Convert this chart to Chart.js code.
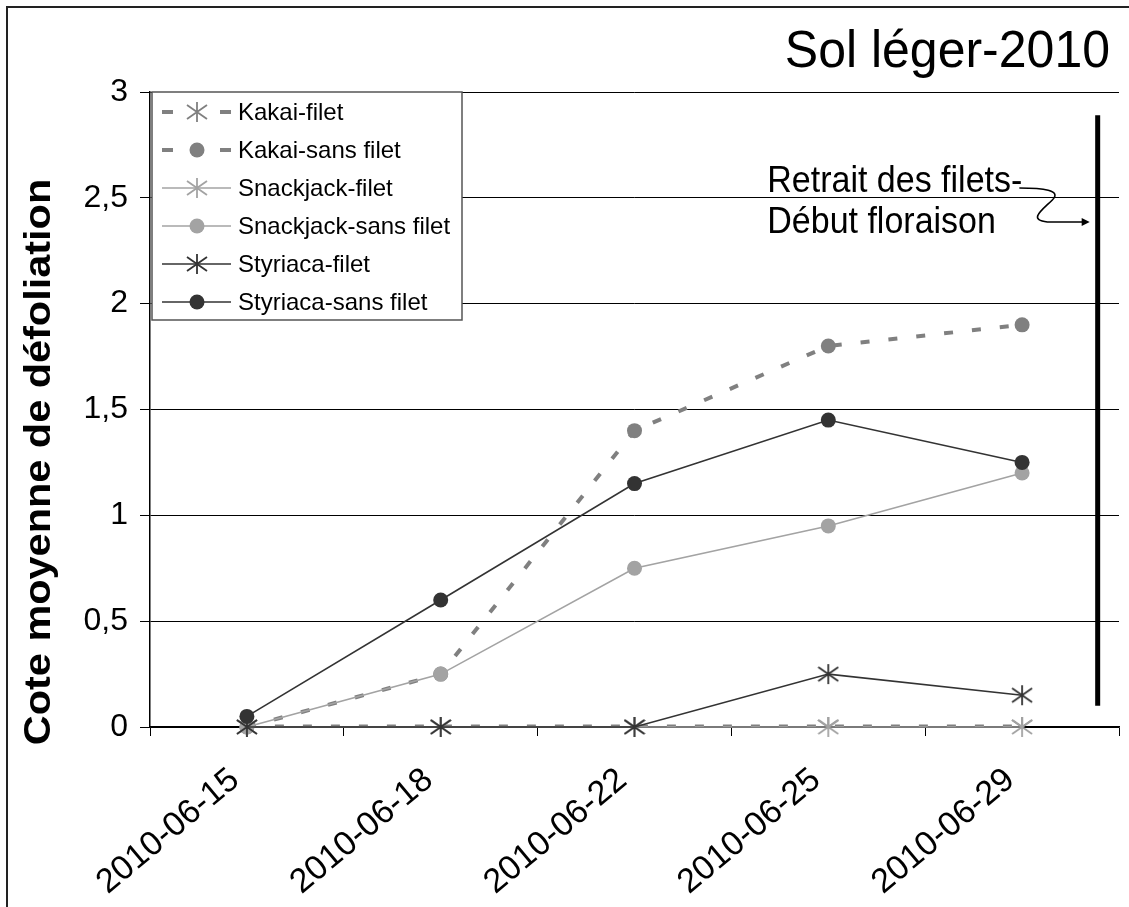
<!DOCTYPE html>
<html>
<head>
<meta charset="utf-8">
<script src="https://cdn.jsdelivr.net/npm/chart.js@4.4.1/dist/chart.umd.min.js"></script>
<style>
  html, body { margin: 0; padding: 0; background: #fff; }
  canvas { display: block; }
</style>
</head>
<body>
<canvas id="chart" width="1129" height="907"></canvas>
<script>
const categories = ["2010-06-15", "2010-06-18", "2010-06-22", "2010-06-25", "2010-06-29"];
const kakaiFilet = [0, 0, 0, 0, 0];
const kakaiSansFilet = [0, 0.25, 1.4, 1.8, 1.9];
const snackjackFilet = [0, 0, 0, 0, 0];
const snackjackSansFilet = [0, 0.25, 0.75, 0.95, 1.2];
const styriacaFilet = [0, 0, 0, 0.25, 0.15];
const styriacaSansFilet = [0.05, 0.6, 1.15, 1.45, 1.25];
const yTicks = [0, 0.5, 1, 1.5, 2, 2.5, 3];

const chartTitle = "Sol léger-2010";
const yTitle = "Cote moyenne de défoliation";
const noteLines = ["Retrait des filets-", "Début floraison"];
// annotation position in data units (category index, value)
const noteAt = { x: 2.685, y: [2.575, 2.38] };
const markerLine = { x: 4.39, from: 0.1, to: 2.89 };

const FONT = "'Liberation Sans', Arial, sans-serif";

const KAKAI = "#808080";
const SNACK = "#a3a3a3";
const STYR = "#333333";

function asterisk(color) {
  const c = document.createElement("canvas");
  c.width = 22; c.height = 22;
  const g = c.getContext("2d");
  g.strokeStyle = color;
  g.lineWidth = 1.8;
  g.beginPath();
  g.moveTo(11, 1); g.lineTo(11, 21);
  g.moveTo(1, 4); g.lineTo(21, 18);
  g.moveTo(1, 18); g.lineTo(21, 4);
  g.stroke();
  return c;
}

function series(label, data, color, opts) {
  return Object.assign({
    label,
    data,
    borderColor: color,
    backgroundColor: color,
    pointBackgroundColor: color,
    pointBorderColor: color,
    pointBorderWidth: 0,
    tension: 0,
    fill: false,
    clip: false,
  }, opts);
}

const datasets = [
  series("Kakai-filet", kakaiFilet, KAKAI, { borderWidth: 5, borderDash: [9, 19], pointStyle: asterisk(KAKAI), pointRadius: 10, order: 6, clip: 0 }),
  series("Kakai-sans filet", kakaiSansFilet, KAKAI, { borderWidth: 4, borderDash: [9, 19], pointStyle: "circle", pointRadius: 7.5, order: 5 }),
  series("Snackjack-filet", snackjackFilet, SNACK, { borderWidth: 1.6, pointStyle: asterisk(SNACK), pointRadius: 10, order: 4 }),
  series("Snackjack-sans filet", snackjackSansFilet, SNACK, { borderWidth: 1.6, pointStyle: "circle", pointRadius: 7.5, order: 3 }),
  series("Styriaca-filet", styriacaFilet, STYR, { borderWidth: 1.6, pointStyle: asterisk(STYR), pointRadius: 10, order: 2 }),
  series("Styriaca-sans filet", styriacaSansFilet, STYR, { borderWidth: 1.6, pointStyle: "circle", pointRadius: 7.5, order: 1 }),
];

function stretchedText(ctx, text, x, y, k) {
  ctx.save();
  ctx.translate(x, y);
  ctx.scale(1, k);
  ctx.fillText(text, 0, 0);
  ctx.restore();
}

const decorations = {
  id: "decorations",
  beforeDraw(chart) {
    const ctx = chart.ctx;
    ctx.save();
    ctx.fillStyle = "#fff";
    ctx.fillRect(0, 0, chart.width, chart.height);
    ctx.restore();
  },
  afterDraw(chart) {
    const ctx = chart.ctx;
    const area = chart.chartArea;
    const xs = chart.scales.x, ys = chart.scales.y;
    ctx.save();

    // outer frame (only top and left visible)
    ctx.strokeStyle = "#222";
    ctx.lineWidth = 2;
    ctx.beginPath();
    ctx.moveTo(7, chart.height);
    ctx.lineTo(7, 7);
    ctx.lineTo(chart.width, 7);
    ctx.stroke();

    // title
    ctx.fillStyle = "#000";
    ctx.font = "50px " + FONT;
    ctx.textAlign = "right";
    ctx.textBaseline = "alphabetic";
    stretchedText(ctx, chartTitle, 1110, 67, 1.04);

    // y axis title
    ctx.save();
    ctx.translate(40, 462);
    ctx.rotate(-Math.PI / 2);
    ctx.scale(1.12, 1);
    ctx.font = "bold 37px " + FONT;
    ctx.textAlign = "center";
    ctx.textBaseline = "middle";
    ctx.fillText(yTitle, 0, 0);
    ctx.restore();

    // legend
    const lx = area.left + 2, ly = area.top, lw = 310, lh = 228;
    ctx.fillStyle = "#fff";
    ctx.fillRect(lx, ly, lw, lh);
    ctx.strokeStyle = "#555";
    ctx.lineWidth = 1.5;
    ctx.strokeRect(lx, ly, lw, lh);
    chart.data.datasets.forEach((ds, i) => {
      const ry = ly + 20 + i * 38;
      ctx.save();
      ctx.strokeStyle = ds.borderColor;
      ctx.lineWidth = Math.min(ds.borderWidth, 4);
      if (ds.borderDash) ctx.setLineDash([11, 47]);
      ctx.beginPath();
      ctx.moveTo(lx + 10, ry);
      ctx.lineTo(lx + 79, ry);
      ctx.stroke();
      ctx.restore();
      if (ds.pointStyle === "circle") {
        ctx.fillStyle = ds.backgroundColor;
        ctx.beginPath();
        ctx.arc(lx + 45, ry, 7.5, 0, Math.PI * 2);
        ctx.fill();
      } else {
        ctx.drawImage(ds.pointStyle, lx + 45 - 11, ry - 11);
      }
      ctx.fillStyle = "#000";
      ctx.font = "24px " + FONT;
      ctx.textAlign = "left";
      ctx.textBaseline = "middle";
      ctx.fillText(ds.label, lx + 86, ry + 1);
    });

    // marker line
    const vx = xs.getPixelForValue(markerLine.x);
    ctx.strokeStyle = "#000";
    ctx.lineWidth = 5;
    ctx.beginPath();
    ctx.moveTo(vx, ys.getPixelForValue(markerLine.from));
    ctx.lineTo(vx, ys.getPixelForValue(markerLine.to));
    ctx.stroke();

    // note text
    const tx = xs.getPixelForValue(noteAt.x);
    ctx.fillStyle = "#000";
    ctx.font = "34px " + FONT;
    ctx.textAlign = "left";
    ctx.textBaseline = "middle";
    const ty1 = ys.getPixelForValue(noteAt.y[0]);
    const ty2 = ys.getPixelForValue(noteAt.y[1]);
    stretchedText(ctx, noteLines[0], tx, ty1, 1.08);
    stretchedText(ctx, noteLines[1], tx, ty2, 1.08);

    // curly arrow
    const ax = tx + ctx.measureText(noteLines[0]).width - 3;
    const ay = ty1 + 6;
    ctx.strokeStyle = "#000";
    ctx.lineWidth = 1.6;
    ctx.beginPath();
    ctx.moveTo(ax, ay);
    ctx.bezierCurveTo(ax + 23, ay, ax + 43, ay + 2, ax + 33, ay + 12);
    ctx.bezierCurveTo(ax + 23, ay + 22, ax + 8, ay + 32, ax + 28, ay + 34);
    ctx.lineTo(vx - 14, ay + 34);
    ctx.stroke();
    ctx.fillStyle = "#000";
    ctx.beginPath();
    ctx.moveTo(vx - 8, ay + 34);
    ctx.lineTo(vx - 16, ay + 30);
    ctx.lineTo(vx - 16, ay + 38);
    ctx.closePath();
    ctx.fill();

    ctx.restore();
  },
};

new Chart(document.getElementById("chart"), {
  type: "line",
  data: { labels: categories, datasets },
  options: {
    responsive: false,
    animation: false,
    layout: { padding: { top: 92, left: 0, right: 0, bottom: 0 } },
    plugins: {
      legend: { display: false },
      tooltip: { enabled: false },
      title: { display: false },
    },
    scales: {
      x: {
        offset: true,
        grid: { drawOnChartArea: false, drawTicks: true, tickLength: 9, color: "#000", offset: true },
        border: { color: "#000", width: 1.5 },
        ticks: {
          font: { family: FONT, size: 34 },
          color: "#000",
          minRotation: 40,
          maxRotation: 40,
          autoSkip: false,
          padding: 24,
          labelOffset: -12,
        },
        afterFit: (s) => { s.height = 180; },
      },
      y: {
        min: 0,
        max: 3,
        afterBuildTicks: (s) => { s.ticks = yTicks.map((v) => ({ value: v })); },
        grid: { color: "#000", lineWidth: 1, tickLength: 10, drawTicks: true },
        border: { color: "#000", width: 1.5 },
        ticks: {
          font: { family: FONT, size: 32 },
          color: "#000",
          padding: 12,
          callback: (v) => String(v).replace(".", ","),
        },
        afterFit: (s) => { s.width = 150; },
      },
    },
  },
  plugins: [decorations],
});
</script>
</body>
</html>
